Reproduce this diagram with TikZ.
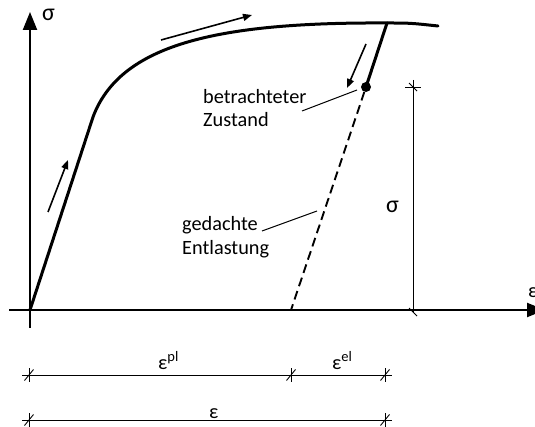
\documentclass[tikz,border=0pt]{standalone}
\usepackage{fontspec}
\setmainfont{Carlito}
\usetikzlibrary{arrows.meta}
\newcommand\supx[1]{\raisebox{7.5pt}{\fontsize{14.5}{14.5}\selectfont #1}}
\begin{document}
\begin{tikzpicture}[x=1pt,y=-1pt,
  font=\fontsize{20.3}{24.5}\selectfont,
  axis/.style={line width=2.2pt,-{Triangle[length=18pt,width=14pt]}},
  curve/.style={line width=3pt,line cap=round,line join=round},
  dashline/.style={line width=1.9pt,dash pattern=on 9pt off 5pt},
  dimline/.style={line width=0.9pt},
  leader/.style={line width=1pt},
  flow/.style={line width=1.6pt,-{Triangle[length=9pt,width=7pt]}},
  lbl/.style={inner sep=0pt,anchor=base west},
  biglbl/.style={lbl,font=\fontsize{24}{28}\selectfont}]
\useasboundingbox (0,0) rectangle (535,427);
\clip (0,0) rectangle (535,427);
% axes
\coordinate (O) at (30,310);
\coordinate (ytop) at (30,12);
\coordinate (ybot) at (30,328);
\coordinate (xl) at (9,310);
\coordinate (xr) at (545,310);
\draw[axis] (ybot) -- (ytop);
\draw[axis] (xl) -- (xr);
\node[biglbl] (sy) at (42,21) {σ};
\node[lbl] (sx) at (528,298) {ε};
% curve
\coordinate (K) at (93,117);
\coordinate (P) at (387,23);
\coordinate (E) at (438,26);
\node[circle,fill,inner sep=0pt,minimum size=10pt] (S) at (366,87) {};
\coordinate (U) at (291,310);
\draw[curve] (O) -- (K) .. controls (120,45) and (215,22) .. (P) .. controls (410,23) .. (E);
\draw[curve] (P) -- (S.center);
\draw[dashline] (S) -- (U);
% flow arrows
\coordinate (f1a) at (48,212); \coordinate (f1b) at (68,160);
\coordinate (f2a) at (161,40); \coordinate (f2b) at (252,15);
\coordinate (f3a) at (366,44); \coordinate (f3b) at (347,88);
\draw[flow] (f1a) -- (f1b);
\draw[flow] (f2a) -- (f2b);
\draw[flow] (f3a) -- (f3b);
% labels with leaders
\node[lbl] (b1) at (203,104) {betrachteter};
\node[lbl] (b2) at (203,127) {Zustand};
\coordinate (lb1) at (302,111); \coordinate (lb2) at (357,90);
\draw[leader] (lb1) -- (lb2);
\node[lbl] (g1) at (182,231) {gedachte};
\node[lbl] (g2) at (182,255) {Entlastung};
\coordinate (lg1) at (262,231); \coordinate (lg2) at (317,211);
\draw[leader] (lg1) -- (lg2);
% vertical dimension sigma
\coordinate (vt) at (413,80); \coordinate (vb) at (413,312);
\draw[dimline] (vt) -- (vb);
\draw[dimline] (405,87) -- (421,87);
\draw[dimline] (409,83) -- (417,91);
\draw[dimline] (409,308) -- (417,316);
\node[biglbl] (sd) at (386,213) {σ};
% horizontal dimensions
\coordinate (d1a) at (22,375); \coordinate (d1b) at (392,375);
\coordinate (d2a) at (22,420); \coordinate (d2b) at (392,420);
\draw[dimline] (d1a) -- (d1b);
\draw[dimline] (d2a) -- (d2b);
\foreach \x/\y in {29/375,291/375,385/375,29/420,385/420}{
  \draw[dimline] (\x,\y-7) -- (\x,\y+7);
  \draw[dimline] (\x-4.5,\y+5.5) -- (\x+4.5,\y-5.5);
}
\node[lbl] (epl) at (158,369) {ε\supx{pl}};
\node[lbl] (eel) at (332,369) {ε\supx{el}};
\node[lbl] (eps) at (209,418) {ε};
\end{tikzpicture}
\end{document}
